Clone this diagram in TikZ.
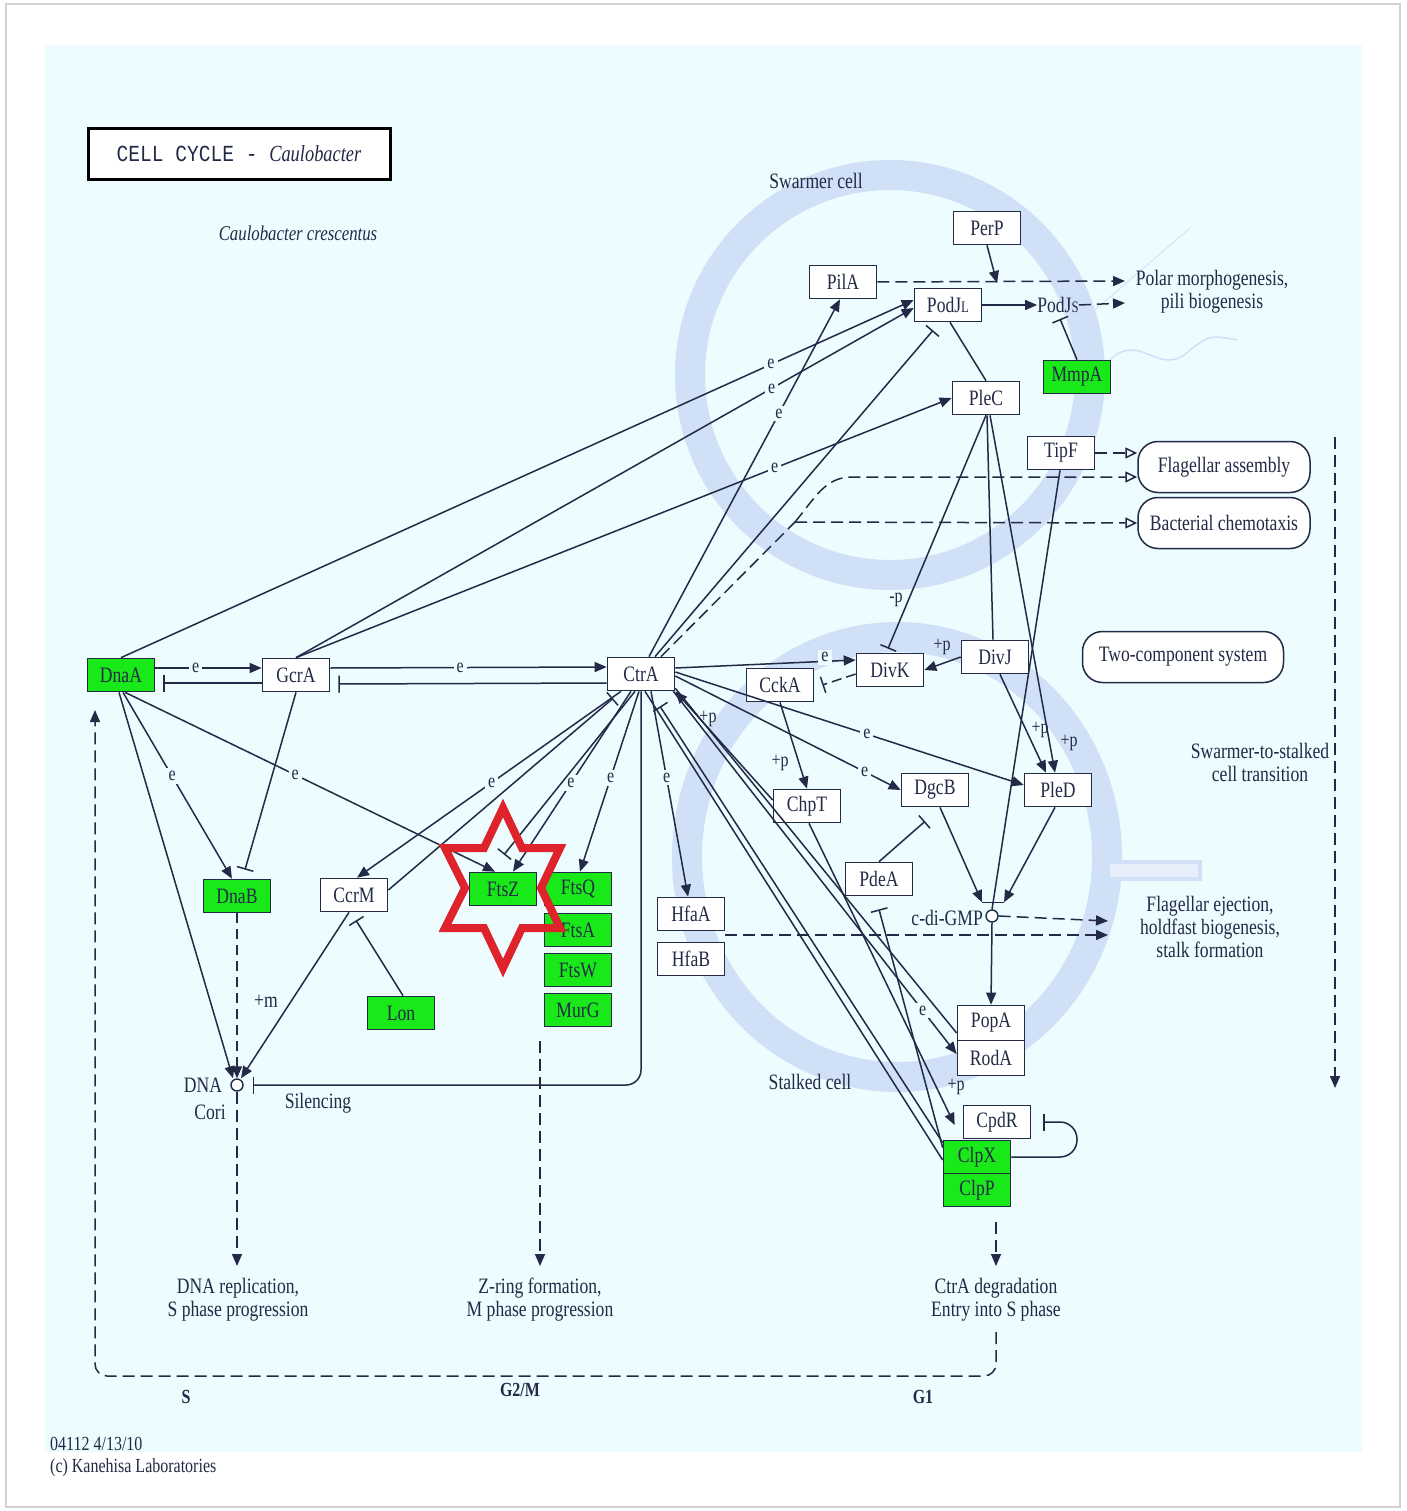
\documentclass[tikz,border=0pt]{standalone}
\usepackage{fontspec}
\setmainfont{Liberation Serif}[FakeStretch=0.8]
\newfontfamily\monof{Liberation Mono}[FakeStretch=0.85]
\usetikzlibrary{arrows.meta,calc}
\definecolor{bgc}{RGB}{236,252,255}
\definecolor{ringc}{RGB}{208,224,247}
\definecolor{lc}{RGB}{34,42,70}
\definecolor{kgreen}{RGB}{25,232,25}
\definecolor{starred}{RGB}{222,35,45}
\newcommand\nfont{\fontsize{22}{23}\selectfont}
\newcommand\efont{\fontsize{20}{21}\selectfont}
\begin{document}
\begin{tikzpicture}[x=1pt,y=-1pt,
 gene/.style={draw=lc,line width=1.7pt,fill=white,minimum width=67pt,minimum height=33pt,inner sep=0pt,font=\nfont,text=lc},
 ggene/.style={gene,fill=kgreen},
 pw/.style={draw=lc,line width=1.5pt,rounded corners=20pt,fill=white,minimum height=51pt,inner sep=0pt,font=\nfont,text=lc},
 txt/.style={font=\nfont,text=lc,align=center,inner sep=0pt},
 lbl/.style={fill=bgc,inner sep=3pt,font=\efont,text=lc},
 plab/.style={font=\efont,text=lc,inner sep=0pt},
 cpd/.style={circle,draw=lc,line width=1.4pt,fill=white,minimum size=12pt,inner sep=0pt},
 ln/.style={draw=lc,line width=1.5pt},
 act/.style={ln,-{Triangle[length=12pt,width=10pt]}},
 inh/.style={ln,-{Bar[width=17pt]}},
 oact/.style={ln,-{Triangle[open,length=12pt,width=11pt]}},
 dsh/.style={dash pattern=on 12pt off 6pt},
 bold/.style={font=\bfseries\fontsize{20}{20}\selectfont,text=lc,inner sep=0pt},
]
\useasboundingbox (0,0) rectangle (1406,1511);
\fill[white] (0,0) rectangle (1406,1511);
\draw[gray!35,line width=2pt] (6,4) rectangle (1400,1507);
\fill[bgc] (45,45) rectangle (1362,1452);
% cells
\draw[ringc,line width=30pt] (890,375) circle[radius=200pt];
\draw[ringc,line width=30pt] (897,857) ellipse[x radius=210pt,y radius=220pt];
\filldraw[fill=ringc!50,draw=ringc,line width=4pt] (1108,862) rectangle (1200,879);
\draw[ringc!80,line width=1.2pt] (1095,310) -- (1190,228);
\draw[ringc,line width=1.5pt] (1110,360) .. controls (1140,330) and (1160,380) .. (1190,350) .. controls (1210,335) .. (1237,340);

% title
\node[draw=black,line width=3pt,minimum width=302pt,minimum height=51pt,inner sep=0pt,fill=white,text=lc] (title) at (239,154) {{\monof\fontsize{23}{24}\selectfont CELL CYCLE - }{\itshape\fontsize{23}{24}\selectfont Caulobacter}};
\node[txt,font=\itshape\fontsize{21}{22}\selectfont] (org) at (298,233) {Caulobacter crescentus};

% nodes
\node[gene] (PerP) at (987,228) {PerP};
\node[gene] (PilA) at (843,282) {PilA};
\node[gene] (PodJL) at (948,305) {PodJ{\fontsize{16}{16}\selectfont L}};
\node[txt] (PodJs) at (1058,305) {PodJ{\fontsize{16}{16}\selectfont S}};
\node[ggene] (MmpA) at (1077,377) {MmpA};
\node[gene] (PleC) at (986,398) {PleC};
\node[gene] (TipF) at (1061,453) {TipF};
\node[pw,minimum width=172pt] (FlagA) at (1224,467) {Flagellar assembly};
\node[pw,minimum width=172pt] (Chemo) at (1224,523) {Bacterial chemotaxis};
\node[pw,minimum width=201pt] (TCS) at (1183,657) {Two-component system};
\node[ggene] (DnaA) at (121,675) {DnaA};
\node[gene] (GcrA) at (296,675) {GcrA};
\node[gene] (CtrA) at (641,674) {CtrA};
\node[gene] (CckA) at (780,685) {CckA};
\node[gene] (DivK) at (890,670) {DivK};
\node[gene] (DivJ) at (995,657) {DivJ};
\node[gene] (ChpT) at (807,806) {ChpT};
\node[gene] (DgcB) at (935,790) {DgcB};
\node[gene] (PleD) at (1058,790) {PleD};
\node[gene] (PdeA) at (879,879) {PdeA};
\node[ggene] (DnaB) at (237,896) {DnaB};
\node[gene] (CcrM) at (354,895) {CcrM};
\node[ggene] (FtsZ) at (503,889) {FtsZ};
\node[ggene] (FtsQ) at (578,889) {FtsQ};
\node[ggene] (FtsA) at (578,930) {FtsA};
\node[ggene] (FtsW) at (578,970) {FtsW};
\node[ggene] (MurG) at (578,1010) {MurG};
\node[ggene] (Lon) at (401,1013) {Lon};
\node[gene] (HfaA) at (691,914) {HfaA};
\node[gene] (HfaB) at (691,959) {HfaB};
\node[gene,minimum height=35pt] (PopA) at (991,1023) {PopA};
\node[gene,minimum height=35pt] (RodA) at (991,1058) {RodA};
\node[gene] (CpdR) at (997,1122) {CpdR};
\node[ggene] (ClpX) at (977,1157) {ClpX};
\node[ggene] (ClpP) at (977,1190) {ClpP};
\node[cpd] (cdg) at (992,916) {};
\node[cpd] (cori) at (237,1085) {};

% texts
\node[txt] (polar) at (1212,292) {Polar morphogenesis,\\pili biogenesis};
\node[txt] (flej) at (1210,927) {Flagellar ejection,\\holdfast biogenesis,\\stalk formation};
\node[txt] (sts) at (1260,762) {Swarmer-to-stalked\\cell transition};
\node[txt] (swc) at (816,181) {Swarmer cell};
\node[txt] (stc) at (810,1082) {Stalked cell};
\node[txt,anchor=east] (cdgl) at (983,918) {c-di-GMP};
\node[txt] (dnal) at (203,1085) {DNA};
\node[txt] (coril) at (210,1112) {Cori};
\node[txt] (sil) at (318,1103) {Silencing};
\node[txt] (plm) at (266,1001) {+m};
\node[txt] (dnarep) at (238,1300) {DNA replication,\\S phase progression};
\node[txt] (zring) at (540,1300) {Z-ring formation,\\M phase progression};
\node[txt] (ctrdeg) at (996,1300) {CtrA degradation\\Entry into S phase};
\node[bold] (phS) at (186,1397) {S};
\node[bold] (phG2) at (520,1390) {G2/M};
\node[bold] (phG1) at (923,1397) {G1};
\node[txt,anchor=west,align=left,font=\fontsize{20}{22}\selectfont] (foot) at (50,1457) {04112 4/13/10\\(c) Kanehisa Laboratories};

% free-end coordinates
\coordinate (polarA) at (1125,281);
\coordinate (polarB) at (1125,303);
\coordinate (perpT) at (997,283);
\coordinate (flejA) at (1108,921);
\coordinate (flejB) at (1108,935);
\coordinate (repT) at (237,1266);
\coordinate (zT) at (540,1266);
\coordinate (degT) at (996,1266);
\coordinate (loopS) at (996,1332);
\coordinate (loopE) at (95,710);
\coordinate (swS) at (1335,437);
\coordinate (swE) at (1335,1088);
\coordinate (fork) at (795,522);

% ---- edges ----
\draw[act] ([yshift=7pt]DnaA.east) -- node[lbl,pos=0.38]{e} ([yshift=7pt]GcrA.west);
\draw[inh] ([yshift=-8pt]GcrA.west) -- ([yshift=-8pt,xshift=8pt]DnaA.east);
\draw[act] ([yshift=7pt]GcrA.east) -- node[lbl,pos=0.47]{e} ([yshift=7pt]CtrA.west);
\draw[inh] ([yshift=-9pt]CtrA.west) -- ([yshift=-9pt,xshift=8pt]GcrA.east);
\draw[act] (DnaA.north) -- node[lbl,pos=0.82]{e} ([yshift=5pt]PodJL.west);
\draw[act] (GcrA.north) -- node[lbl,pos=0.77]{e} ([yshift=-3pt]PodJL.west);
\draw[act] (GcrA.north) -- node[lbl,pos=0.73]{e} (PleC.west);
\draw[act] ([xshift=8pt]CtrA.north) -- node[lbl,pos=0.68]{e} ([xshift=-3pt]PilA.south);
\draw[inh] ([xshift=14pt]CtrA.north) -- ([xshift=-15pt,yshift=-8pt]PodJL.south);
\draw[ln,dsh] ([xshift=20pt]CtrA.north) -- (fork);
\draw[oact,dsh] (fork) -- (Chemo.west);
\draw[oact,dsh] (fork) .. controls (815,498) and (825,477) .. (852,477) -- ([yshift=-10pt]FlagA.west);
\draw[oact,dsh] (TipF.east) -- ([yshift=14pt]FlagA.west);
\draw[act,dsh] (PilA.east) -- (polarA);
\draw[act] (PerP.south) -- (perpT);
\draw[act] (PodJL.east) -- (PodJs.west);
\draw[act,dsh] (PodJs.east) -- (polarB);
\draw[inh] (MmpA.north) -- ([xshift=2pt,yshift=-6pt]PodJs.south);
\draw[ln] ([xshift=2pt]PodJL.south) -- (PleC.north);
\draw[inh] (PleC.south) -- ([xshift=-2pt,yshift=4pt]DivK.north);
\node[plab] (mp) at (896,600) {-p};
\draw[ln] ([xshift=1pt]PleC.south) -- ([xshift=-2pt]DivJ.north);
\draw[act] ([xshift=4pt]PleC.south) -- ([xshift=-3pt]PleD.north);
\draw[act] ([xshift=5pt]DivJ.south) -- ([xshift=-12pt]PleD.north);
\node[plab] (pp1) at (1040,730) {+p};
\node[plab] (pp2) at (1069,743) {+p};
\draw[act] (DivJ.west) -- (DivK.east);
\node[plab] (pp3) at (942,647) {+p};
\draw[act] ([yshift=6pt]CtrA.east) -- node[lbl,pos=0.83,yshift=4pt]{e} ([yshift=10pt]DivK.west);
\draw[inh,dash pattern=on 10pt off 5pt] ([yshift=-4pt]DivK.west) -- ([xshift=8pt]CckA.east);
\draw[act] (CckA.south) -- (ChpT.north);
\node[plab] (pp4) at (780,763) {+p};
\draw[act] ([yshift=6pt]ChpT.west) -- (CtrA.south east);
\node[plab] (pp5) at (708,719) {+p};
\draw[act] ([yshift=-2pt]CtrA.east) -- node[lbl,pos=0.84]{e} (DgcB.west);
\draw[act] ([yshift=2pt]CtrA.east) -- node[lbl,pos=0.55]{e} ([yshift=5pt]PleD.west);
\draw[inh] (PdeA.north) -- ([xshift=-10pt,yshift=-14pt]DgcB.south);
\draw[act] ([xshift=5pt]DgcB.south) -- ([xshift=-10pt,yshift=7pt]cdg.north);
\draw[act] ([xshift=-3pt]PleD.south) -- ([xshift=12pt,yshift=7pt]cdg.north);
\draw[ln] ([xshift=-10pt,yshift=7pt]cdg.north) -- ([xshift=12pt,yshift=7pt]cdg.north);
\draw[ln] ([xshift=-1pt]TipF.south) -- (cdg.north);
\draw[act] (cdg.south) -- (PopA.north);
\draw[act,dsh] (cdg.east) -- (flejA);
\draw[act,dsh] ([yshift=-21pt]HfaA.east) -- (flejB);
\draw[act] ([xshift=10pt]CtrA.south) -- node[lbl,pos=0.42]{e} ([xshift=-3pt]HfaA.north);
\draw[inh,rounded corners=15pt] (CtrA.south) |- ([xshift=9pt]cori.east);
\draw[act] ([xshift=2pt]DnaA.south) -- node[lbl,pos=0.45]{e} ([xshift=-5pt]DnaB.north);
\draw[inh] (GcrA.south) -- ([xshift=8pt,yshift=9pt]DnaB.north);
\draw[act] ([xshift=4pt]DnaA.south) -- node[lbl,pos=0.46]{e} ([xshift=-8pt]FtsZ.north);
\draw[act] ([xshift=-2pt]DnaA.south) -- ([xshift=-4pt]cori.north);
\draw[act,dash pattern=on 10pt off 6pt] (DnaB.south) -- (cori.north);
\draw[act] ([xshift=-5pt]CcrM.south) -- ([xshift=4pt]cori.north);
\draw[inh] ([xshift=2pt]Lon.north) -- ([xshift=2pt,yshift=-8pt]CcrM.south);
\draw[act,dsh] (cori.south) -- (repT);
\draw[act,dsh] ([xshift=-38pt,yshift=-14pt]MurG.south) -- (zT);
\draw[act,dsh] ([xshift=19pt,yshift=-15pt]ClpP.south) -- (degT);
\draw[act,dsh,rounded corners=12pt] (loopS) -- (996,1376) -- (95,1376) -- (loopE);
\draw[act,dsh] (swS) -- (swE);
\draw[act] ([xshift=-20pt]CtrA.south) -- node[lbl,pos=0.49]{e} ([xshift=3pt]CcrM.north);
\draw[inh] ([yshift=5pt]CcrM.east) -- ([xshift=-28pt,yshift=-7pt]CtrA.south);
\draw[act] ([xshift=-10pt]CtrA.south) -- node[lbl,pos=0.51]{e} ([xshift=10pt]FtsZ.north);
\draw[inh] ([xshift=-6pt]CtrA.south) -- ([xshift=1pt,yshift=17pt]FtsZ.north);
\draw[act] ([xshift=-2pt]CtrA.south) -- node[lbl,pos=0.48]{e} ([xshift=2pt]FtsQ.north);
\draw[inh] ([yshift=-3pt]ClpX.north west) -- ([xshift=19pt,yshift=-15pt]CtrA.south);
\draw[ln] ([xshift=4pt]CtrA.south) -- ([yshift=-3pt]ClpX.west);
\draw[act] ([xshift=-2pt]CtrA.south east) -- node[lbl,pos=0.88]{e} ([yshift=4pt]RodA.west);
\draw[ln] ([yshift=-10pt]PopA.west) -- ([yshift=3pt]CtrA.south east);
\draw[act] ([xshift=2pt]ChpT.south) -- ([xshift=-8pt,yshift=-3pt]CpdR.west);
\node[plab] (pp6) at (956,1087) {+p};
\draw[inh] ([yshift=-8pt]ClpX.north west) -- ([yshift=-13pt]PdeA.south);
\draw[inh,rounded corners=17pt] (ClpX.east) -- (1077,1157) -- (1077,1122) -- ([xshift=12pt]CpdR.east);

% red star
\draw[starred,line width=8pt,line join=miter] (503,808) -- (522,848) -- (560,848) -- (541,888) -- (560,928) -- (522,928) -- (503,968) -- (484,928) -- (445,928) -- (465,888) -- (445,848) -- (484,848) -- cycle;
\end{tikzpicture}
\end{document}
